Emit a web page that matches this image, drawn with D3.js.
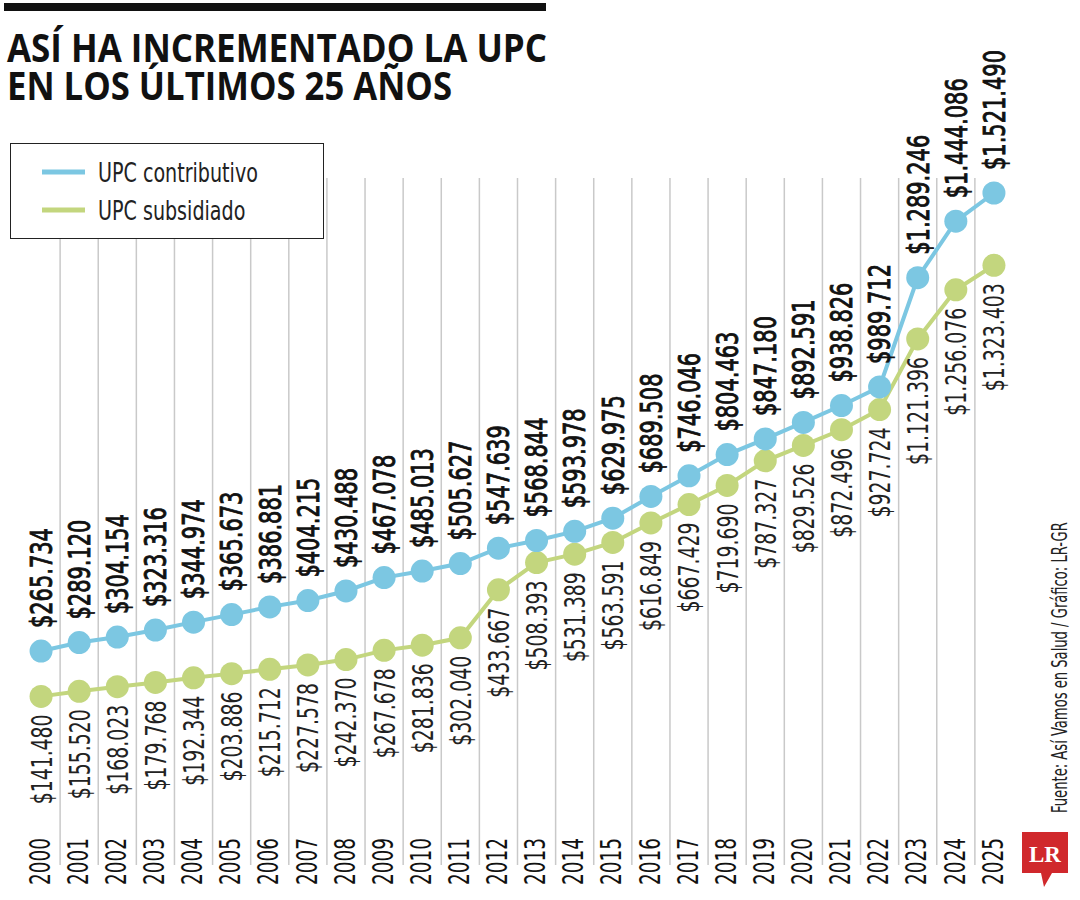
<!DOCTYPE html>
<html>
<head>
<meta charset="utf-8">
<script src="https://cdn.jsdelivr.net/npm/d3@7"></script>
<style>
  body { margin: 0; background: #fff; }
  svg { display: block; }
</style>
</head>
<body>
<svg id="chart" width="1080" height="900"></svg>
<script>
'use strict';

// data
const years = [2000, 2001, 2002, 2003, 2004, 2005, 2006, 2007, 2008, 2009, 2010, 2011, 2012,
               2013, 2014, 2015, 2016, 2017, 2018, 2019, 2020, 2021, 2022, 2023, 2024, 2025];
const contributivo = [265734, 289120, 304154, 323316, 344974, 365673, 386881, 404215, 430488,
                      467078, 485013, 505627, 547639, 568844, 593978, 629975, 689508, 746046,
                      804463, 847180, 892591, 938826, 989712, 1289246, 1444086, 1521490];
const subsidiado = [141480, 155520, 168023, 179768, 192344, 203886, 215712, 227578, 242370,
                    267678, 281836, 302040, 433667, 508393, 531389, 563591, 616849, 667429,
                    719690, 787327, 829526, 872496, 927724, 1121396, 1256076, 1323403];
const seriesNames = ['UPC contributivo', 'UPC subsidiado'];
const titleLines = ['ASÍ HA INCREMENTADO LA UPC', 'EN LOS ÚLTIMOS 25 AÑOS'];
const sourceText = 'Fuente: Así Vamos en Salud / Gráfico: LR-GR';

// styles
const BLUE = '#7cc7e2';
const GREEN = '#c3d67e';
const GRID = '#c9c9c9';
const CONDENSED = '"Liberation Sans Narrow", "DejaVu Sans Condensed", Roboto, sans-serif';

const svg = d3.select('#chart');

// scales
const x = d3.scaleBand().domain(years).range([22, 1013]);
const y = d3.scaleLinear().domain([0, d3.max(contributivo)]).range([748, 193]);
const cx = yr => x(yr) + x.bandwidth() / 2;

const fmt = d3.formatLocale({
    decimal: ',', thousands: '.', grouping: [3], currency: ['$', '']
}).format('$,.0f');

// measure a sample string and return the horizontal squeeze needed to hit a width
function squeeze(sample, size, weight, target){
    const t = svg.append('text')
        .attr('font-family', CONDENSED)
        .attr('font-size', size)
        .attr('font-weight', weight)
        .text(sample);
    const len = t.node().getComputedTextLength();
    t.remove();
    return target / len;
}

// top bar + title
svg.append('rect')
    .attr('x', 4).attr('y', 3)
    .attr('width', 542).attr('height', 8)
    .attr('fill', '#111');

svg.selectAll('text.title')
    .data(titleLines)
    .enter()
    .append('text')
    .attr('class', 'title')
    .attr('x', 7)
    .attr('y', (d, i) => 62 + i * 38)
    .attr('font-family', '"Open Sans", sans-serif')
    .attr('font-weight', 700)
    .attr('font-size', 40)
    .attr('fill', '#111')
    .attr('textLength', (d, i) => i === 0 ? 540 : 445)
    .attr('lengthAdjust', 'spacingAndGlyphs')
    .text(d => d);

// vertical separators between years
svg.append('g')
    .selectAll('line')
    .data(years.slice(1))
    .enter()
    .append('line')
    .attr('x1', d => x(d)).attr('x2', d => x(d))
    .attr('y1', 178).attr('y2', 865)
    .attr('stroke', GRID)
    .attr('stroke-width', 1.5);

// legend (white box covers the separators behind it)
const legend = svg.append('g');
legend.append('rect')
    .attr('x', 10.5).attr('y', 143.5)
    .attr('width', 313).attr('height', 95)
    .attr('fill', '#fff')
    .attr('stroke', '#222')
    .attr('stroke-width', 1);

const kLegend = squeeze(seriesNames[0], 27, 400, 160);
legend.selectAll('g.item')
    .data(seriesNames)
    .enter()
    .append('g')
    .attr('class', 'item')
    .each(function(d, i){
        const g = d3.select(this);
        const yy = 172 + i * 38;
        g.append('line')
            .attr('x1', 42).attr('x2', 85)
            .attr('y1', yy).attr('y2', yy)
            .attr('stroke', i === 0 ? BLUE : GREEN)
            .attr('stroke-width', 5);
        g.append('text')
            .attr('transform', `translate(98,${yy + 10}) scale(${kLegend},1)`)
            .attr('font-family', CONDENSED)
            .attr('font-size', 27)
            .attr('fill', '#222')
            .text(d);
    });

// lines
const line = d3.line().x(d => cx(d.year)).y(d => y(d.value));
const series = [
    { name: seriesNames[1], color: GREEN, values: years.map((yr, i) => ({ year: yr, value: subsidiado[i] })) },
    { name: seriesNames[0], color: BLUE, values: years.map((yr, i) => ({ year: yr, value: contributivo[i] })) }
];

const plot = svg.append('g');
series.forEach(s => {
    plot.append('path')
        .datum(s.values)
        .attr('d', line)
        .attr('fill', 'none')
        .attr('stroke', s.color)
        .attr('stroke-width', 4);
});
series.forEach(s => {
    plot.append('g')
        .selectAll('circle')
        .data(s.values)
        .enter()
        .append('circle')
        .attr('cx', d => cx(d.year))
        .attr('cy', d => y(d.value))
        .attr('r', 11.5)
        .attr('fill', s.color);
});

// value labels: contributivo above the dots (semi-bold look), subsidiado below
const kBlue = squeeze('$265.734', 30, 400, 100);
const kGreen = squeeze('$141.480', 29, 400, 90);

svg.append('g')
    .selectAll('text')
    .data(series[1].values)
    .enter()
    .append('text')
    .attr('transform', d => `translate(${cx(d.year)},${y(d.value) - 23}) rotate(-90) scale(${kBlue},1)`)
    .attr('dy', '0.36em')
    .attr('font-family', CONDENSED)
    .attr('font-size', 30)
    .attr('fill', '#111')
    .attr('stroke', '#111')
    .attr('stroke-width', 0.9)
    .text(d => fmt(d.value));

svg.append('g')
    .selectAll('text')
    .data(series[0].values)
    .enter()
    .append('text')
    .attr('transform', d => `translate(${cx(d.year)},${y(d.value) + 18}) rotate(-90) scale(${kGreen},1)`)
    .attr('dy', '0.36em')
    .attr('text-anchor', 'end')
    .attr('font-family', CONDENSED)
    .attr('font-size', 29)
    .attr('fill', '#222')
    .text(d => fmt(d.value));

// year labels along the bottom
const kYear = squeeze('2000', 29, 400, 47);
svg.append('g')
    .selectAll('text')
    .data(years)
    .enter()
    .append('text')
    .attr('transform', d => `translate(${cx(d)},885) rotate(-90) scale(${kYear},1)`)
    .attr('dy', '0.3em')
    .attr('font-family', CONDENSED)
    .attr('font-size', 29)
    .attr('fill', '#111')
    .text(d => d);

// source note
const kSource = squeeze(sourceText, 21, 400, 291);
svg.append('text')
    .attr('transform', `translate(1067,813) rotate(-90) scale(${kSource},1)`)
    .attr('font-family', CONDENSED)
    .attr('font-size', 21)
    .attr('fill', '#222')
    .text(sourceText);

// LR logo
const logo = svg.append('g');
logo.append('path')
    .attr('d', 'M1022,832 H1068 V873 H1052 L1044,887 L1041,873 H1022 Z')
    .attr('fill', '#d0282c');
logo.append('text')
    .attr('x', 1045).attr('y', 862)
    .attr('text-anchor', 'middle')
    .attr('font-family', '"Liberation Serif", "DejaVu Serif", serif')
    .attr('font-weight', 700)
    .attr('font-size', 23)
    .attr('fill', '#fff')
    .text('LR');
</script>
</body>
</html>
